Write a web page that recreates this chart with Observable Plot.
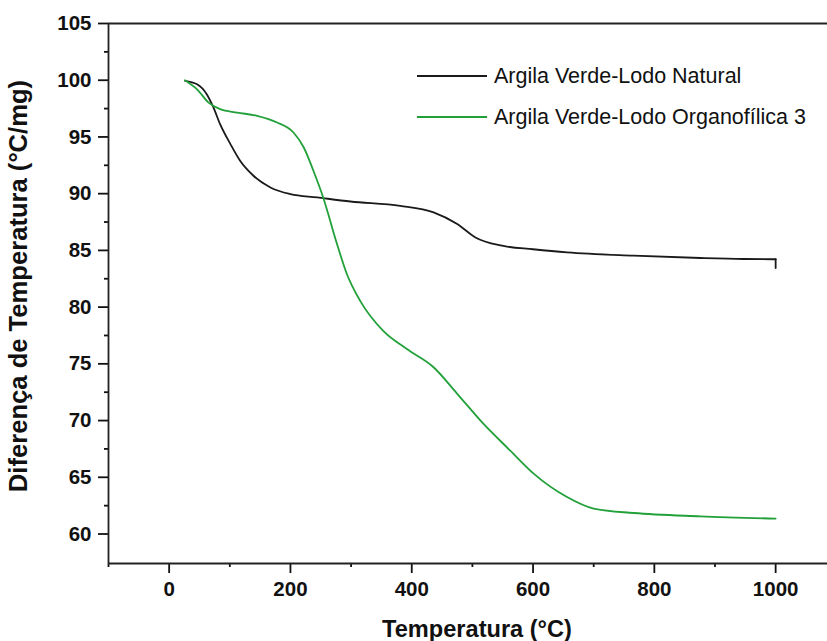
<!DOCTYPE html>
<html>
<head>
<meta charset="utf-8">
<script src="https://cdn.jsdelivr.net/npm/d3@7"></script>
<script src="https://cdn.jsdelivr.net/npm/@observablehq/plot@0.6"></script>
<style>
  html, body { margin: 0; padding: 0; background: #fff; }
  #wrap { position: relative; width: 827px; height: 641px; }
  #overlay { position: absolute; left: 0; top: 0; pointer-events: none; }
</style>
</head>
<body>
<div id="wrap"></div>
<script>
// Data
const seriesNames = ["Argila Verde-Lodo Natural", "Argila Verde-Lodo Organofílica 3"];
const naturalT = [26, 46, 62, 73, 84, 101, 117, 139, 167, 200, 244, 299, 381, 436, 475, 505, 549, 600, 656, 766, 876, 947, 1000, 1000];
const naturalV = [99.95, 99.65, 98.77, 97.6, 96.13, 94.37, 92.9, 91.58, 90.55, 89.96, 89.67, 89.31, 88.93, 88.35, 87.32, 86.14, 85.41, 85.1, 84.82, 84.53, 84.33, 84.24, 84.22, 83.45];
const organoT = [26, 46, 65, 84, 112, 145, 178, 205, 222, 238, 254, 276, 293, 315, 353, 392, 436, 475, 518, 562, 601, 656, 700, 766, 876, 1000];
const organoV = [100, 99.2, 98.03, 97.45, 97.15, 96.86, 96.27, 95.39, 94.07, 92.0, 89.67, 85.7, 82.92, 80.55, 77.9, 76.3, 74.7, 72.36, 69.72, 67.37, 65.32, 63.26, 62.24, 61.85, 61.56, 61.36];
const xMajorTicks = [0, 200, 400, 600, 800, 1000];
const xMinorTicks = [-100, 100, 300, 500, 700, 900];
const yMajorTicks = [60, 65, 70, 75, 80, 85, 90, 95, 100, 105];
const yMinorTicks = [62.5, 67.5, 72.5, 77.5, 82.5, 87.5, 92.5, 97.5, 102.5];
const xTitle = "Temperatura (°C)";
const yTitle = "Diferença de Temperatura (°C/mg)";
const colors = ["#1a1a1a", "#22a03a"];

const natural = naturalT.map((t, i) => ({T: t, V: naturalV[i]}));
const naturalMain = natural.slice(0, natural.length - 1);   // smooth part
const naturalEnd = natural.slice(natural.length - 2);       // final vertical drop at 1000 °C
const organo = organoT.map((t, i) => ({T: t, V: organoV[i]}));

const xDomain = [-100, 1085.5];
const yDomain = [57.4, 105];

const font = "'Liberation Sans', Arial, Helvetica, sans-serif";
const tickFont = 20.5;

const chart = Plot.plot({
  width: 827,
  height: 641,
  marginTop: 23,
  marginBottom: 78,
  marginLeft: 108,
  marginRight: 0,
  style: {fontFamily: font, background: "#fff", color: "#111", overflow: "visible"},
  x: {domain: xDomain},
  y: {domain: yDomain},
  marks: [
    Plot.axisX(xMinorTicks, {tickSize: 4, text: null, strokeWidth: 1.8, label: null}),
    Plot.axisX(xMajorTicks, {tickSize: 10, text: null, strokeWidth: 1.8, label: null}),
    Plot.axisY(yMinorTicks, {tickSize: 4, text: null, strokeWidth: 1.8, label: null}),
    Plot.axisY(yMajorTicks, {tickSize: 10, text: null, strokeWidth: 1.8, label: null}),
    // tick labels
    Plot.text(xMajorTicks, {x: d => d, frameAnchor: "bottom", lineAnchor: "top", dy: 18, text: d => String(d),
      fontSize: tickFont, fontWeight: "bold", fill: "#111"}),
    Plot.text(yMajorTicks, {y: d => d, frameAnchor: "left", textAnchor: "end", dx: -17, text: d => String(d),
      fontSize: tickFont, fontWeight: "bold", fill: "#111"}),
    Plot.ruleY([yDomain[1]], {stroke: "#222", strokeWidth: 1.8}),
    Plot.ruleY([yDomain[0]], {stroke: "#222", strokeWidth: 1.8}),
    Plot.ruleX([xDomain[0]], {stroke: "#222", strokeWidth: 1.8}),
    Plot.line(naturalMain, {x: "T", y: "V", stroke: colors[0], strokeWidth: 1.8, curve: "monotone-x"}),
    Plot.line(naturalEnd, {x: "T", y: "V", stroke: colors[0], strokeWidth: 1.8}),
    Plot.line(organo, {x: "T", y: "V", stroke: colors[1], strokeWidth: 1.8, curve: "monotone-x"})
  ]
});

const wrap = document.getElementById("wrap");
wrap.appendChild(chart);

// Overlay: legend and axis titles
const ns = "http://www.w3.org/2000/svg";
const ov = document.createElementNS(ns, "svg");
ov.setAttribute("id", "overlay");
ov.setAttribute("width", 827);
ov.setAttribute("height", 641);
ov.style.fontFamily = font;
wrap.appendChild(ov);

function addText(str, attrs) {
  const t = document.createElementNS(ns, "text");
  for (const k in attrs) t.setAttribute(k, attrs[k]);
  t.textContent = str;
  ov.appendChild(t);
  return t;
}
function addLine(attrs) {
  const l = document.createElementNS(ns, "line");
  for (const k in attrs) l.setAttribute(k, attrs[k]);
  ov.appendChild(l);
}

const legendY = [76, 117];
seriesNames.forEach((name, i) => {
  addLine({x1: 417, x2: 487, y1: legendY[i], y2: legendY[i], stroke: colors[i], "stroke-width": 2});
  addText(name, {x: 494, y: legendY[i], "dominant-baseline": "central", "font-size": 21.5, fill: "#111"});
});

addText(xTitle, {x: 477, y: 637, "text-anchor": "middle", "font-size": 23.6, "font-weight": "bold", fill: "#111"});
addText(yTitle, {x: 0, y: 0, transform: "translate(27,286) rotate(-90)", "text-anchor": "middle", "font-size": 25.6, "font-weight": "bold", fill: "#111"});
</script>
</body>
</html>
